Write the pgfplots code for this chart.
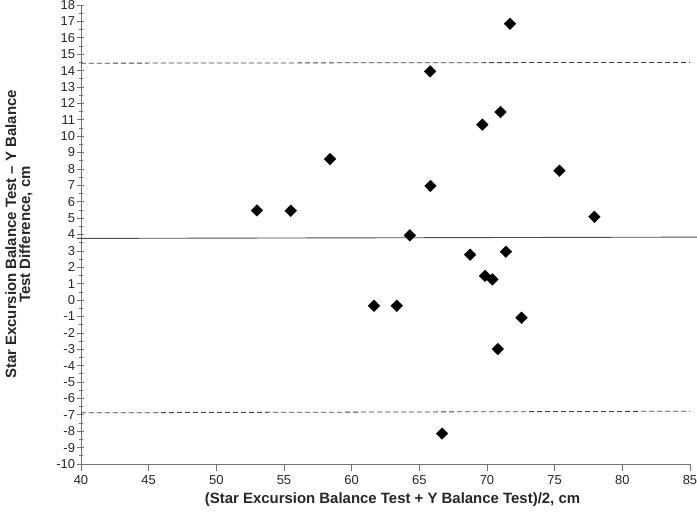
\documentclass[border=0pt]{standalone}
\usepackage{pgfplots}
\pgfplotsset{compat=1.18}
\usepackage{fontspec}
\setmainfont{Liberation Sans}
\begin{document}
\begin{tikzpicture}
\begin{axis}[
  scale only axis, width=609bp, height=459bp,
  at={(0,0)}, anchor=south west,
  xmin=40, xmax=85, ymin=-10, ymax=18,
  xtick={40,45,...,85}, ytick={-10,-9,...,18},
  minor y tick num=1,
  axis x line=bottom, axis y line=left,
  axis line style={draw=black!55, line width=0.9pt, -},
  tick style={draw=black!55, line width=0.7pt},
  xtick align=outside, ytick align=center,
  major tick length=7bp, minor tick length=4bp,
  /pgf/number format/assume math mode=true,
  ticklabel style={font=\fontsize{13}{14}\selectfont, text=black!85},
  xticklabel style={yshift=-1bp},
  yticklabel style={xshift=1bp},
  xlabel={\bfseries (Star Excursion Balance Test + Y Balance Test)/2, cm},
  ylabel={\bfseries\begin{tabular}{c}Star Excursion Balance Test -- Y Balance\\[-2pt]Test Difference, cm\end{tabular}},
  every axis x label/.style={at={(axis description cs:0.5,0)}, xshift=7bp, yshift=-36bp, anchor=center, font=\fontsize{15}{16}\selectfont, text=black!85},
  every axis y label/.style={at={(axis description cs:0,0.5)}, xshift=-61bp, rotate=90, anchor=center, font=\fontsize{15}{16}\selectfont, text=black!85},
  clip=false,
]
\addplot[black!70, line width=0.9pt] coordinates {(39.7,3.76) (85.5,3.84)};
\addplot[black!75, line width=0.8pt, dash pattern=on 5bp off 3bp] coordinates {(40,14.45) (85,14.5)};
\addplot[black!75, line width=0.8pt, dash pattern=on 5bp off 3bp] coordinates {(40,-6.88) (85,-6.78)};
\addplot[only marks, mark=square*, mark size=4.1bp, mark options={rotate=45, fill=black, draw=black}] coordinates {
(53.0,5.47) (55.5,5.45) (58.4,8.6) (71.7,16.86) (65.8,13.95) (71.0,11.47)
(69.66,10.7) (75.35,7.89) (65.82,6.96) (77.94,5.08) (64.3,3.95) (68.75,2.77)
(71.4,2.95) (69.86,1.48) (70.4,1.26) (61.65,-0.35) (63.33,-0.35) (72.55,-1.08)
(70.8,-2.99) (66.68,-8.14)
};
\end{axis}
\pgfresetboundingbox
\path (-81bp,-48bp) rectangle (616bp,464bp);
\end{tikzpicture}
\end{document}
